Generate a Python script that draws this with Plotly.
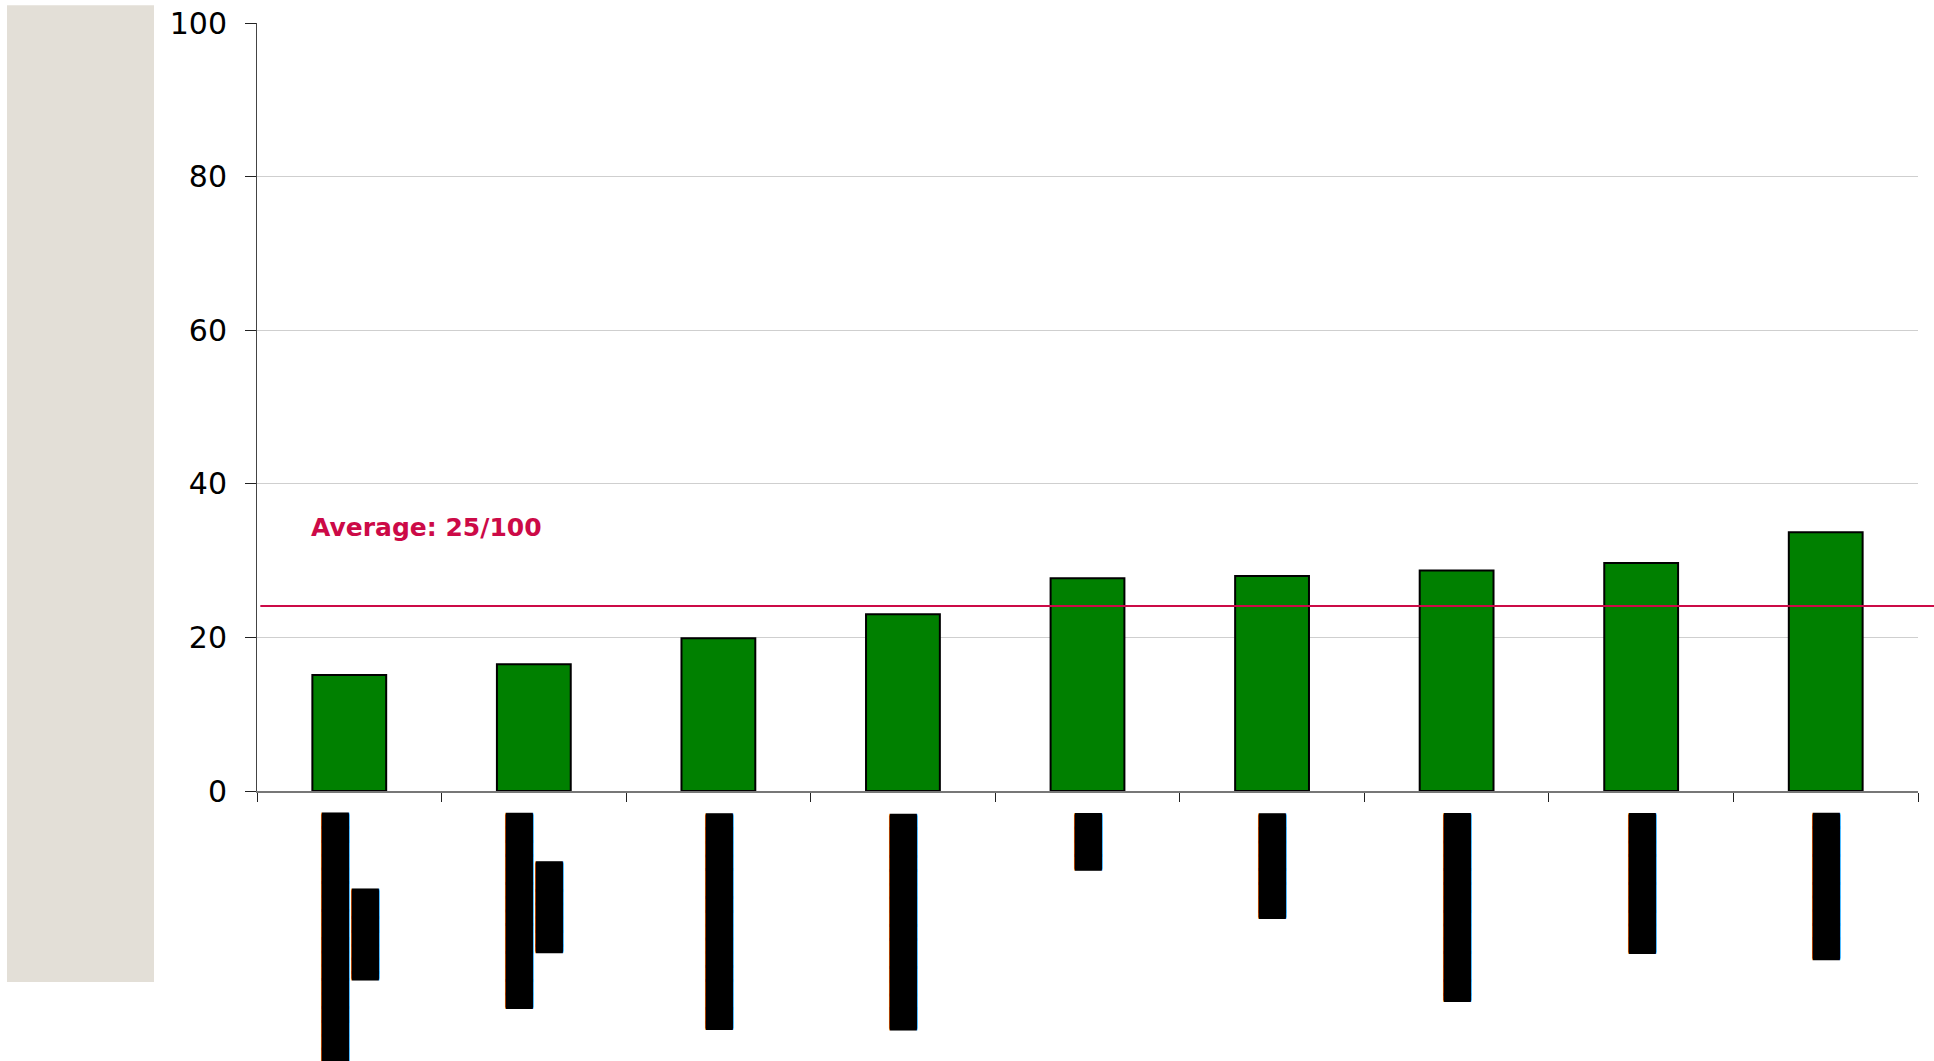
import plotly.graph_objects as go

# ---- data ----
categories = ["c1", "c2", "c3", "c4", "c5", "c6", "c7", "c8", "c9"]
scores = [15.1, 16.5, 19.9, 23.0, 27.7, 28.0, 28.7, 29.7, 33.7]
average_value = 24.1
average_label = "Average: 25/100"
y_ticks = [0, 20, 40, 60, 80, 100]

# redacted category labels (rendered as solid blocks)
B = "\u2588"
H = "\u2590"
category_labels = [
    B * 18 + "<br>" + H + B * 6,
    B * 14 + "<br>" + H + B * 6,
    H + B * 15,
    H + B * 15,
    B * 4,
    H + B * 7,
    H + B * 13,
    B * 10,
    H + B * 10,
]

GREEN = "#008000"
RED = "#cc0a47"

fig = go.Figure()
fig.add_trace(go.Bar(
    x=categories, y=scores, width=0.4,
    marker=dict(color=GREEN, line=dict(color="black", width=2)),
    hoverinfo="skip",
))

# average line
fig.add_shape(type="line", xref="paper", yref="y",
              x0=0.002, x1=1.03, y0=average_value, y1=average_value,
              line=dict(color=RED, width=2), layer="above")
fig.add_annotation(xref="paper", yref="y", x=0.0315, y=average_value,
                   yshift=78, xanchor="left", yanchor="middle",
                   text="<b>" + average_label + "</b>", showarrow=False,
                   font=dict(family="DejaVu Sans", size=25, color=RED))

# left gray panel
fig.add_shape(type="rect", xref="paper", yref="paper",
              x0=-0.1505, x1=-0.0620, y0=-0.2486, y1=1.0230,
              fillcolor="#e3dfd7", line=dict(width=0), layer="below")

# category labels as rotated text
for cat, lab in zip(categories, category_labels):
    fig.add_annotation(x=cat, xref="x", y=0, yref="paper",
                       yanchor="top", xanchor="center", yshift=-20,
                       text=lab, textangle=-90, align="center",
                       showarrow=False,
                       font=dict(family="DejaVu Sans Mono", size=23, color="black",
                                 shadow="1px 0px 0px black, -1px 0px 0px black"))

fig.update_layout(
    width=1934, height=1061,
    margin=dict(l=257, r=16, t=22.5, b=270, autoexpand=False),
    paper_bgcolor="white", plot_bgcolor="white",
    showlegend=False,
    font=dict(family="DejaVu Sans", color="black"),
)
fig.update_xaxes(type="category", showticklabels=False, ticks="outside",
                 tickson="boundaries", ticklen=9, tickcolor="#222", tickwidth=1,
                 showline=True, linecolor="#777", linewidth=2, showgrid=False,
                 automargin=False)
fig.update_yaxes(range=[0, 100], tickvals=y_ticks, ticks="outside", ticklen=11,
                 tickcolor="#222", showline=True, linecolor="#444", linewidth=1,
                 gridcolor="#cfcfcf", gridwidth=1, zeroline=False,
                 tickfont=dict(family="DejaVu Sans", size=30, color="black"),
                 ticklabelstandoff=12, automargin=False)

fig.write_html("out.html")
